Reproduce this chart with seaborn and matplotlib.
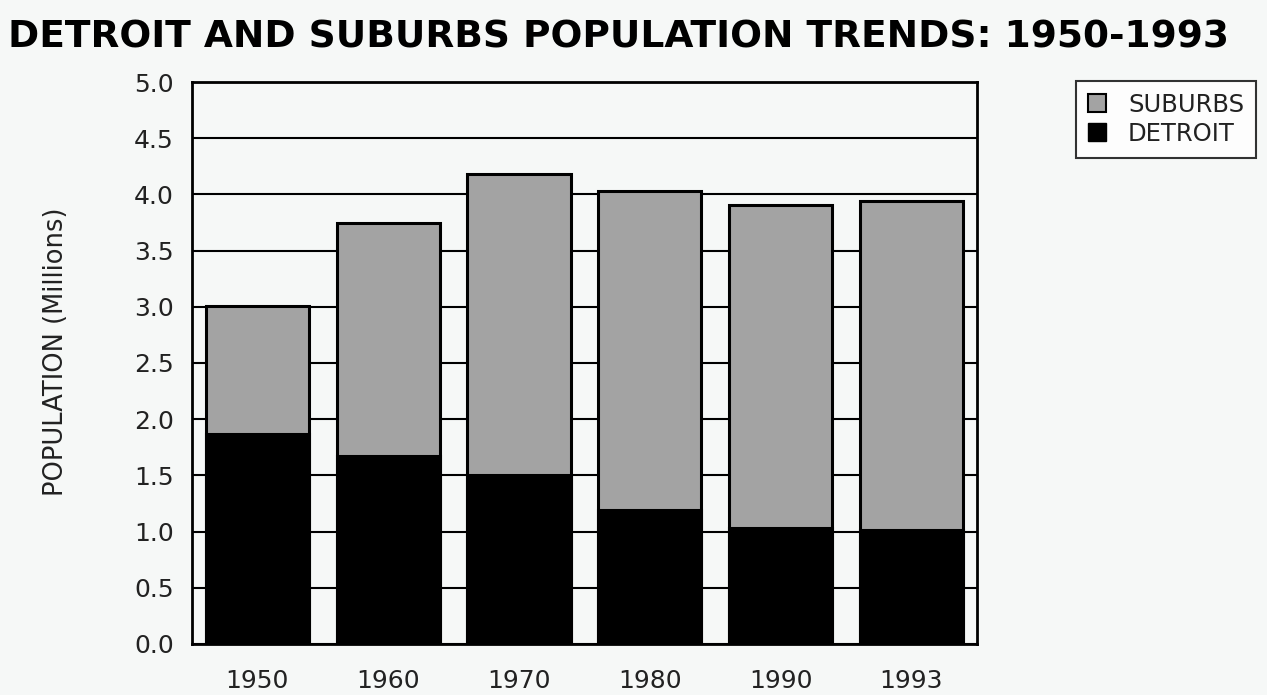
import numpy as np
import pandas as pd
import matplotlib
matplotlib.use("Agg")
import matplotlib.pyplot as plt
import seaborn as sns
from matplotlib.patches import Patch

# 데이터
years = ["1950", "1960", "1970", "1980", "1990", "1993"]
detroit = [1.87, 1.67, 1.50, 1.19, 1.03, 1.01]
suburbs = [1.14, 2.08, 2.68, 2.84, 2.88, 2.93]

df = pd.DataFrame({"year": years, "detroit": detroit, "suburbs": suburbs})
df["total"] = df["detroit"] + df["suburbs"]

sns.set_style("white")
plt.rcParams["font.family"] = ["DejaVu Sans"]

bg = "#f6f8f7"
fig = plt.figure(figsize=(12.67, 6.95), dpi=100, facecolor=bg)
ax = fig.add_axes([0.1515, 0.0734, 0.6195, 0.8086])
ax.set_facecolor(bg)

# 누적 막대: 전체(교외) 먼저, 그 위에 디트로이트
sns.barplot(data=df, x="year", y="total", color="#a3a3a3", width=0.79,
            edgecolor="black", linewidth=2.2, saturation=1, ax=ax, zorder=2)
sns.barplot(data=df, x="year", y="detroit", color="black", width=0.79,
            edgecolor="black", linewidth=2.2, saturation=1, ax=ax, zorder=3)

ax.set_xlim(-0.5, 5.5)
ax.set_ylim(0, 5.0)
ax.set_yticks(np.arange(0, 5.01, 0.5))
ax.set_yticklabels([f"{v:.1f}" for v in np.arange(0, 5.01, 0.5)])
ax.yaxis.grid(True, color="black", linewidth=1.5, zorder=0)
ax.set_axisbelow(True)
for s in ax.spines.values():
    s.set_visible(True)
    s.set_color("black")
    s.set_linewidth(2)

ax.tick_params(axis="both", direction="out", length=10, width=2, color="black",
               labelsize=18, labelcolor="#222222")
ax.tick_params(axis="y", pad=3)
ax.tick_params(axis="x", pad=8)
ax.set_xlabel("")
ax.set_ylabel("POPULATION (Millions)", fontsize=18.5, color="#222222")
ax.yaxis.set_label_coords(-0.157, 0.52)

fig.text(0.006, 0.972, "DETROIT AND SUBURBS POPULATION TRENDS: 1950-1993",
         fontsize=27, fontweight="bold", color="black", family=["DejaVu Sans"],
         va="top", ha="left")

handles = [Patch(facecolor="#a3a3a3", edgecolor="black", linewidth=1.5, label="SUBURBS"),
           Patch(facecolor="black", edgecolor="black", label="DETROIT")]
leg = fig.legend(handles=handles, loc="upper left", bbox_to_anchor=(0.849, 0.884),
                 frameon=True, fancybox=False, fontsize=17.5, handlelength=0.75,
                 handleheight=0.75, handletextpad=0.9, labelspacing=0.2,
                 borderpad=0.5, borderaxespad=0)
leg.get_frame().set_edgecolor("black")
leg.get_frame().set_linewidth(1.5)
leg.get_frame().set_facecolor("white")
for t in leg.get_texts():
    t.set_color("#222222")

plt.savefig("out.png", dpi=100, facecolor=bg)
